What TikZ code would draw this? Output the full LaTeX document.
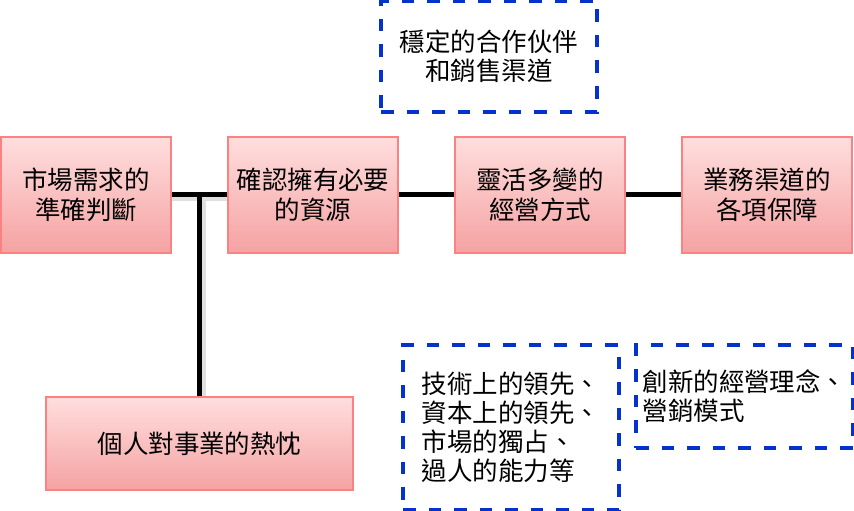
\documentclass[tikz,border=0pt]{standalone}
\usepackage{fontspec}
\setmainfont{Noto Sans CJK TC}
\usetikzlibrary{positioning}
\definecolor{lightR}{RGB}{255, 222, 222}
\definecolor{darkR} {RGB}{245, 162, 162}
\definecolor{edgeR} {RGB}{250, 130, 130}
\definecolor{dashB} {RGB}{5,   50,  205}
\tikzset{
  factor/.style={draw=edgeR, line width=0.3mm, top color=lightR, bottom color=darkR,
    minimum width=3.4cm, minimum height=2.32cm, inner sep=0pt, align=center,
    font=\fontsize{14.5}{17}\selectfont},
  note/.style={draw=dashB, line width=0.8mm, dash pattern=on 2.5mm off 2.6mm,
    minimum width=4.32cm, inner sep=0pt, align=left,
    font=\fontsize{14.5}{16.5}\selectfont},
  link/.style={draw, line width=1mm},
  linkshadow/.style={draw=black!12, line width=0.8mm}
}
\begin{document}
\begin{tikzpicture}
  \useasboundingbox (0,0) rectangle (17.08,-10.22);

  \node[factor] (demand)  at (1.72, -3.9)  {市場需求的\\準確判斷};
  \node[factor] (resource) at (6.26, -3.9) {確認擁有必要\\的資源};
  \node[factor] (flexible) at (10.8, -3.9) {靈活多變的\\經營方式};
  \node[factor] (channel) at (15.34, -3.9) {業務渠道的\\各項保障};
  \node[factor, minimum width=6.14cm, minimum height=1.86cm] (passion) at (3.99, -8.87) {個人對事業的熱忱};

  \node[note, minimum height=2.22cm, align=center] (partner) at (9.78, -1.13) {穩定的合作伙伴\\和銷售渠道};
  \node[note, minimum height=3.3cm]  (advantage) at (10.22, -8.55) {技術上的領先、\\資本上的領先、\\市場的獨占、\\過人的能力等};
  \node[note, minimum width=4.34cm, minimum height=2.06cm] (concept) at (14.89, -7.93) {創新的經營理念、\\營銷模式};

  \coordinate (fork) at (demand.east -| passion.north);

  \path[linkshadow] ([yshift=-0.08cm]demand.east) -- ([yshift=-0.08cm]resource.west);
  \path[linkshadow] ([xshift=0.08cm, yshift=-0.08cm]fork) -- ([xshift=0.08cm]passion.north);
  \path[link] (demand) -- (resource);
  \path[link] (resource) -- (flexible);
  \path[link] (flexible) -- (channel);
  \path[link] ([yshift=0.05cm]fork) -- (passion);
\end{tikzpicture}
\end{document}
